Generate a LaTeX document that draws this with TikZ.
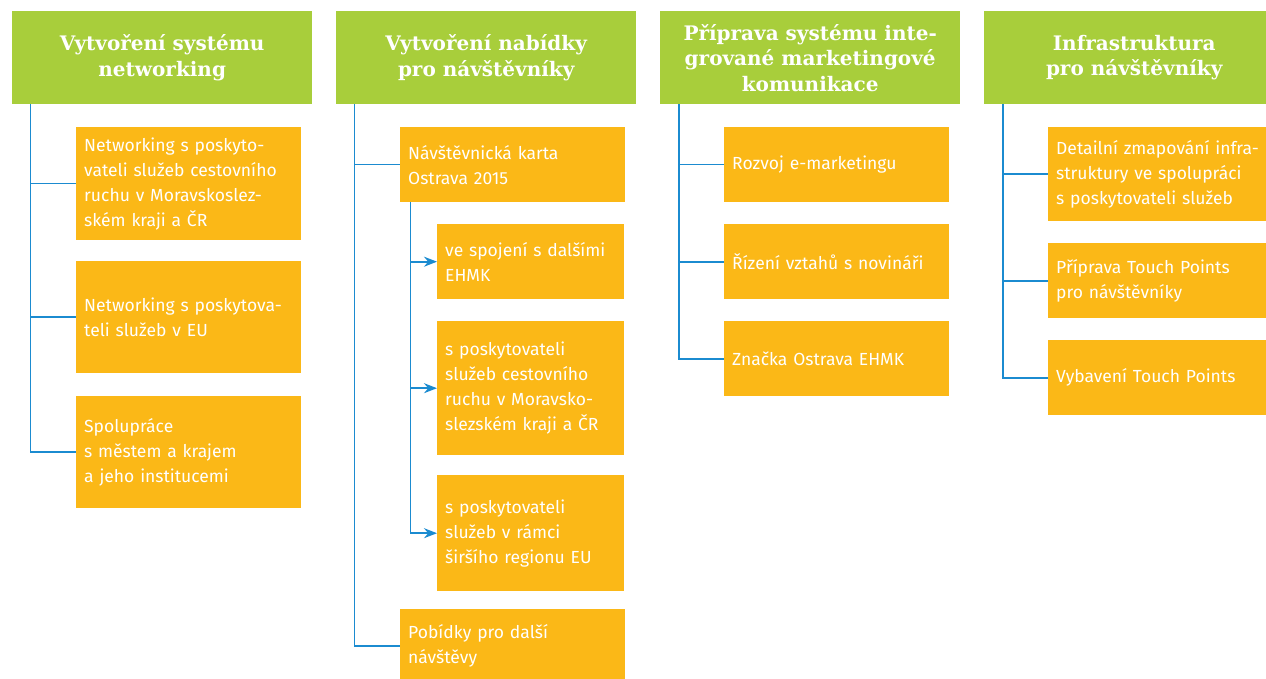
\documentclass[tikz,border=0pt]{standalone}
\usepackage{fontspec}
\newfontfamily\headfont{DejaVu Serif}
\newfontfamily\boxfont{Fira Sans}
\usepackage{tikz}
\usetikzlibrary{arrows.meta,positioning}
\definecolor{leafgreen}{HTML}{A8CE3B}
\definecolor{amber}{HTML}{FBB817}
\definecolor{linkblue}{HTML}{1B8BD0}
\tikzset{
  head/.style={fill=leafgreen,text=white,inner sep=0pt,anchor=north west,
               font=\headfont\bfseries\fontsize{20}{25.5}\selectfont,
               minimum width=300pt,minimum height=93pt,align=center},
  item/.style={fill=amber,text=white,inner xsep=8pt,inner ysep=0pt,
               anchor=north west,align=left,text width=209pt,
               font=\boxfont\fontsize{17.5}{25}\selectfont},
  subitem/.style={item,text width=171pt},
  link/.style={draw=linkblue,line width=1.6pt},
  linkarrow/.style={link,-{Stealth[length=13pt,width=10pt]}},
}

\begin{document}
\begin{tikzpicture}[x=1pt,y=-1pt]
  \useasboundingbox (0,0) rectangle (1266,679);
  % headers
  \node[head] (h1) at (12,11)  {Vytvoření systému\\networking};
  \node[head] (h2) at (336,11) {Vytvoření nabídky\\pro návštěvníky};
  \node[head] (h3) at (660,11) {Příprava systému inte-\\grované marketingové\\komunikace};
  \node[head] (h4) at (984,11) {Infrastruktura\\pro návštěvníky};

  % column 1
  \node[item,minimum height=113pt] (a1) at (76,127)
    {Networking s poskyto-\\vateli služeb cestovního\\ruchu v Moravskoslez-\\ském kraji a ČR};
  \node[item,minimum height=112pt] (a2) at (76,261)
    {Networking s poskytova-\\teli služeb v EU};
  \node[item,minimum height=112pt] (a3) at (76,396)
    {Spolupráce\\s městem a krajem\\a jeho institucemi};
  \coordinate (t1) at ([xshift=18.5pt]h1.south west);
  \draw[link] (t1) |- (a3.west);
  \foreach \n in {a1,a2}{\draw[link] (t1 |- \n.west) -- (\n.west);}

  % column 2
  \node[item,minimum height=75pt] (b1) at (400,127)
    {Návštěvnická karta\\Ostrava 2015};
  \node[subitem,minimum height=75pt] (b11) at (437,224)
    {ve spojení s dalšími\\EHMK};
  \node[subitem,minimum height=134pt] (b12) at (437,321)
    {s poskytovateli\\služeb cestovního\\ruchu v Moravsko-\\slezském kraji a ČR};
  \node[subitem,minimum height=116pt] (b13) at (437,475)
    {s poskytovateli\\služeb v rámci\\širšího regionu EU};
  \node[item,minimum height=74pt] (b2) at (400,609)
    {Pobídky pro další\\návštěvy};
  \coordinate (t2) at ([xshift=18.5pt]h2.south west);
  \draw[link] (t2) |- (b2.west);
  \draw[link] (t2 |- b1.west) -- (b1.west);
  \coordinate (s2) at ([xshift=10.5pt]b1.south west);
  \draw[linkarrow] (s2) |- (b13.west);
  \foreach \n in {b11,b12}{\draw[linkarrow] (s2 |- \n.west) -- (\n.west);}

  % column 3
  \node[item,minimum height=75pt] (c1) at (724,127) {Rozvoj e-marketingu};
  \node[item,minimum height=75pt] (c2) at (724,224) {Řízení vztahů s novináři};
  \node[item,minimum height=75pt] (c3) at (724,321) {Značka Ostrava EHMK};
  \coordinate (t3) at ([xshift=19pt]h3.south west);
  \draw[link] (t3) |- (c3.west);
  \foreach \n in {c1,c2}{\draw[link] (t3 |- \n.west) -- (\n.west);}

  % column 4
  \node[item,minimum height=94pt] (d1) at (1048,127)
    {Detailní zmapování infra-\\struktury ve spolupráci\\s poskytovateli služeb};
  \node[item,minimum height=75pt] (d2) at (1048,243)
    {Příprava Touch Points\\pro návštěvníky};
  \node[item,minimum height=75pt] (d3) at (1048,340)
    {Vybavení Touch Points};
  \coordinate (t4) at ([xshift=19pt]h4.south west);
  \draw[link] (t4) |- (d3.west);
  \foreach \n in {d1,d2}{\draw[link] (t4 |- \n.west) -- (\n.west);}
\end{tikzpicture}
\end{document}
